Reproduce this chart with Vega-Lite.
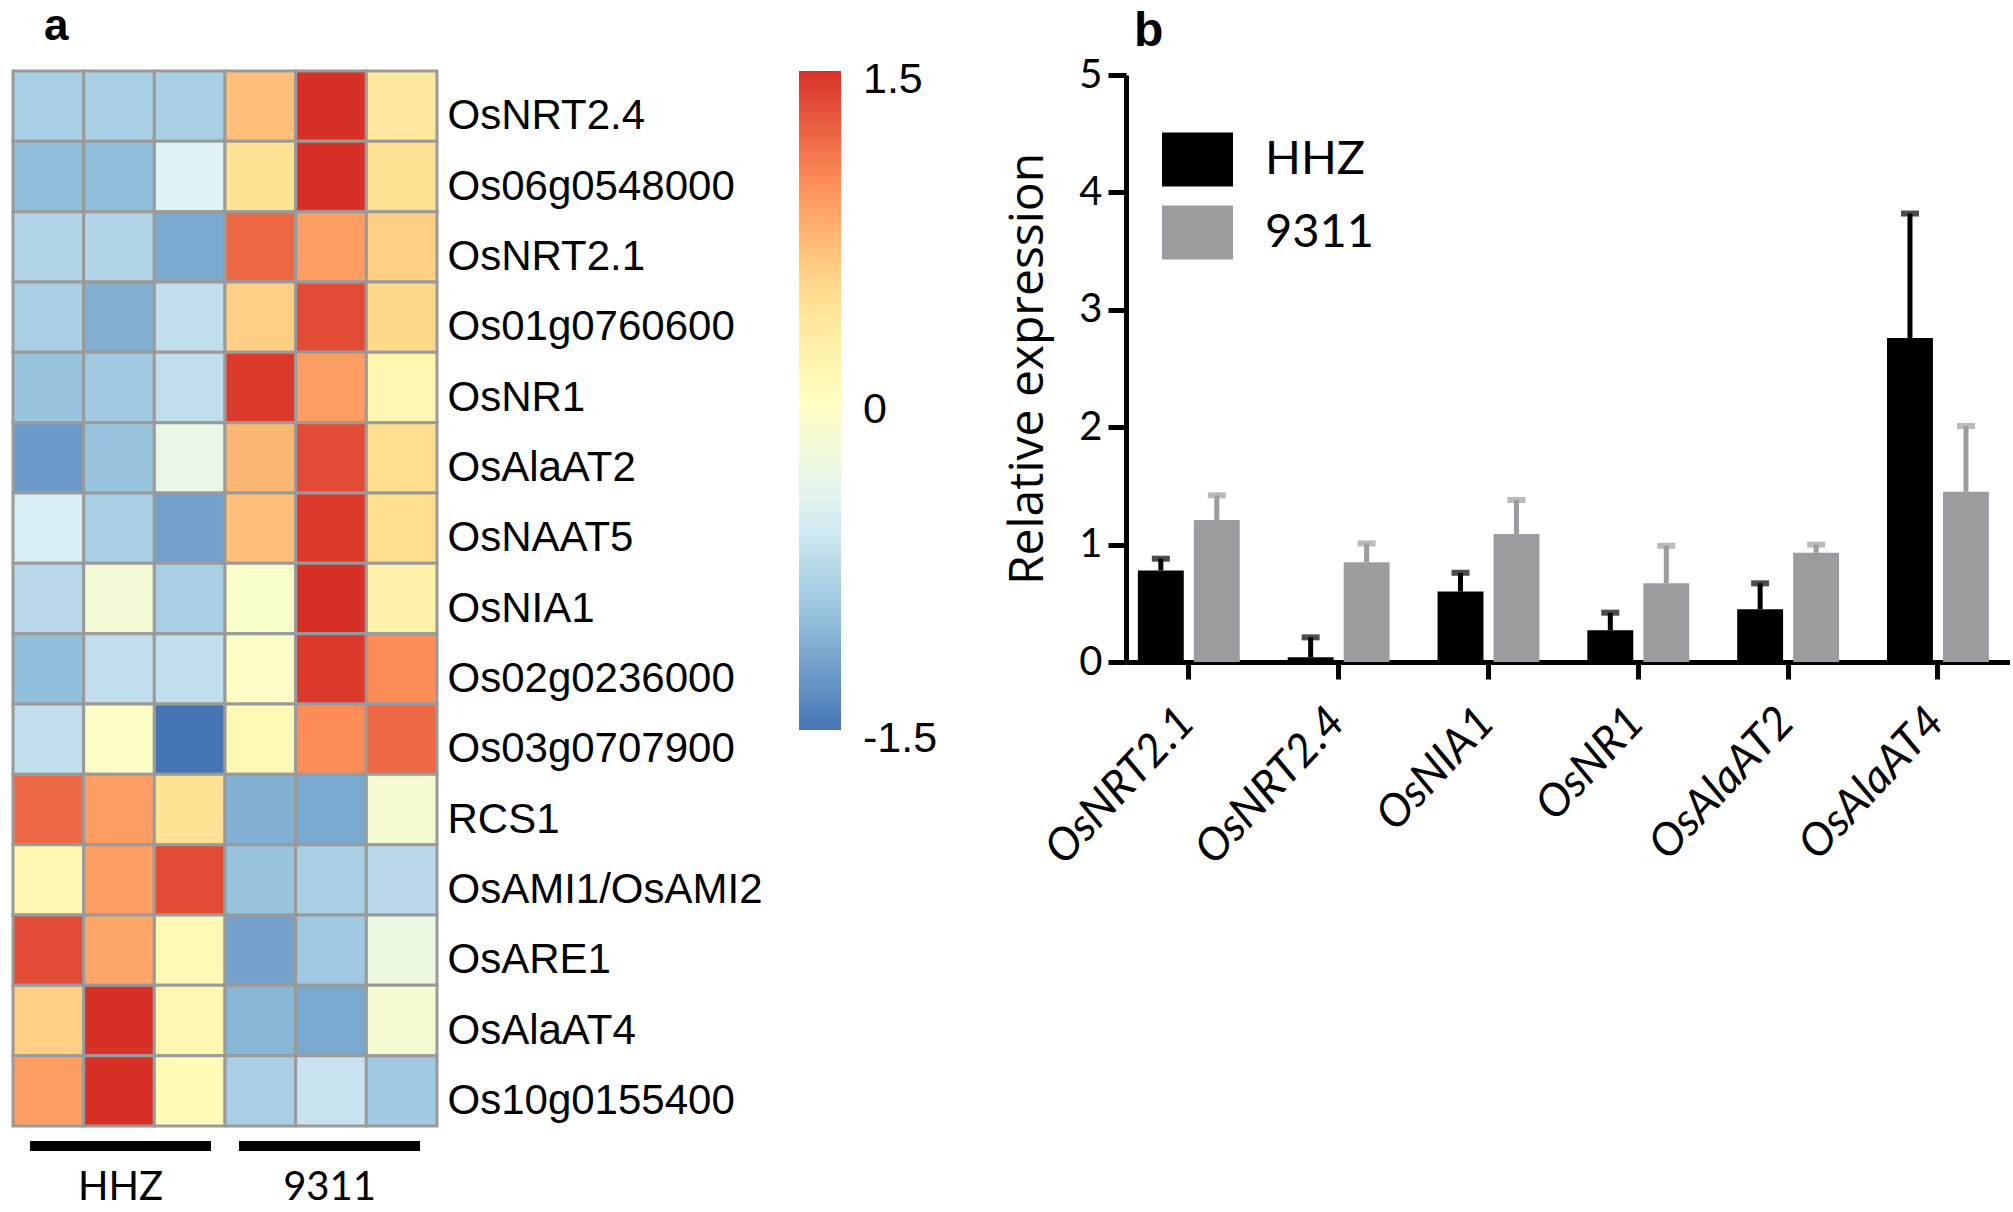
{
  "$schema": "https://vega.github.io/schema/vega-lite/v6.json",
  "padding": {"left": 11, "top": 4, "right": 0, "bottom": 0},
  "background": "white",
  "config": {"view": {"stroke": null}, "axis": {"grid": false}},
  "datasets": {
    "heat": [
      {"gene": "OsNRT2.4", "sample": "H1", "z": -0.85}, {"gene": "OsNRT2.4", "sample": "H2", "z": -0.85}, {"gene": "OsNRT2.4", "sample": "H3", "z": -0.85}, {"gene": "OsNRT2.4", "sample": "N1", "z": 0.7}, {"gene": "OsNRT2.4", "sample": "N2", "z": 1.5}, {"gene": "OsNRT2.4", "sample": "N3", "z": 0.35},
      {"gene": "Os06g0548000", "sample": "H1", "z": -1.0}, {"gene": "Os06g0548000", "sample": "H2", "z": -1.0}, {"gene": "Os06g0548000", "sample": "H3", "z": -0.5}, {"gene": "Os06g0548000", "sample": "N1", "z": 0.45}, {"gene": "Os06g0548000", "sample": "N2", "z": 1.5}, {"gene": "Os06g0548000", "sample": "N3", "z": 0.45},
      {"gene": "OsNRT2.1", "sample": "H1", "z": -0.8}, {"gene": "OsNRT2.1", "sample": "H2", "z": -0.8}, {"gene": "OsNRT2.1", "sample": "H3", "z": -1.15}, {"gene": "OsNRT2.1", "sample": "N1", "z": 1.2}, {"gene": "OsNRT2.1", "sample": "N2", "z": 0.9}, {"gene": "OsNRT2.1", "sample": "N3", "z": 0.6},
      {"gene": "Os01g0760600", "sample": "H1", "z": -0.85}, {"gene": "Os01g0760600", "sample": "H2", "z": -1.1}, {"gene": "Os01g0760600", "sample": "H3", "z": -0.7}, {"gene": "Os01g0760600", "sample": "N1", "z": 0.6}, {"gene": "Os01g0760600", "sample": "N2", "z": 1.35}, {"gene": "Os01g0760600", "sample": "N3", "z": 0.55},
      {"gene": "OsNR1", "sample": "H1", "z": -0.95}, {"gene": "OsNR1", "sample": "H2", "z": -0.9}, {"gene": "OsNR1", "sample": "H3", "z": -0.7}, {"gene": "OsNR1", "sample": "N1", "z": 1.45}, {"gene": "OsNR1", "sample": "N2", "z": 0.9}, {"gene": "OsNR1", "sample": "N3", "z": 0.15},
      {"gene": "OsAlaAT2", "sample": "H1", "z": -1.25}, {"gene": "OsAlaAT2", "sample": "H2", "z": -0.95}, {"gene": "OsAlaAT2", "sample": "H3", "z": -0.35}, {"gene": "OsAlaAT2", "sample": "N1", "z": 0.75}, {"gene": "OsAlaAT2", "sample": "N2", "z": 1.35}, {"gene": "OsAlaAT2", "sample": "N3", "z": 0.5},
      {"gene": "OsNAAT5", "sample": "H1", "z": -0.55}, {"gene": "OsNAAT5", "sample": "H2", "z": -0.85}, {"gene": "OsNAAT5", "sample": "H3", "z": -1.2}, {"gene": "OsNAAT5", "sample": "N1", "z": 0.7}, {"gene": "OsNAAT5", "sample": "N2", "z": 1.45}, {"gene": "OsNAAT5", "sample": "N3", "z": 0.5},
      {"gene": "OsNIA1", "sample": "H1", "z": -0.75}, {"gene": "OsNIA1", "sample": "H2", "z": -0.2}, {"gene": "OsNIA1", "sample": "H3", "z": -0.85}, {"gene": "OsNIA1", "sample": "N1", "z": -0.1}, {"gene": "OsNIA1", "sample": "N2", "z": 1.5}, {"gene": "OsNIA1", "sample": "N3", "z": 0.2},
      {"gene": "Os02g0236000", "sample": "H1", "z": -1.0}, {"gene": "Os02g0236000", "sample": "H2", "z": -0.7}, {"gene": "Os02g0236000", "sample": "H3", "z": -0.7}, {"gene": "Os02g0236000", "sample": "N1", "z": -0.05}, {"gene": "Os02g0236000", "sample": "N2", "z": 1.45}, {"gene": "Os02g0236000", "sample": "N3", "z": 1.0},
      {"gene": "Os03g0707900", "sample": "H1", "z": -0.7}, {"gene": "Os03g0707900", "sample": "H2", "z": -0.05}, {"gene": "Os03g0707900", "sample": "H3", "z": -1.5}, {"gene": "Os03g0707900", "sample": "N1", "z": 0.1}, {"gene": "Os03g0707900", "sample": "N2", "z": 1.0}, {"gene": "Os03g0707900", "sample": "N3", "z": 1.2},
      {"gene": "RCS1", "sample": "H1", "z": 1.2}, {"gene": "RCS1", "sample": "H2", "z": 0.9}, {"gene": "RCS1", "sample": "H3", "z": 0.45}, {"gene": "RCS1", "sample": "N1", "z": -1.1}, {"gene": "RCS1", "sample": "N2", "z": -1.15}, {"gene": "RCS1", "sample": "N3", "z": -0.15},
      {"gene": "OsAMI1/OsAMI2", "sample": "H1", "z": 0.15}, {"gene": "OsAMI1/OsAMI2", "sample": "H2", "z": 0.9}, {"gene": "OsAMI1/OsAMI2", "sample": "H3", "z": 1.35}, {"gene": "OsAMI1/OsAMI2", "sample": "N1", "z": -0.95}, {"gene": "OsAMI1/OsAMI2", "sample": "N2", "z": -0.85}, {"gene": "OsAMI1/OsAMI2", "sample": "N3", "z": -0.75},
      {"gene": "OsARE1", "sample": "H1", "z": 1.35}, {"gene": "OsARE1", "sample": "H2", "z": 0.85}, {"gene": "OsARE1", "sample": "H3", "z": 0.1}, {"gene": "OsARE1", "sample": "N1", "z": -1.2}, {"gene": "OsARE1", "sample": "N2", "z": -0.9}, {"gene": "OsARE1", "sample": "N3", "z": -0.3},
      {"gene": "OsAlaAT4", "sample": "H1", "z": 0.6}, {"gene": "OsAlaAT4", "sample": "H2", "z": 1.5}, {"gene": "OsAlaAT4", "sample": "H3", "z": 0.15}, {"gene": "OsAlaAT4", "sample": "N1", "z": -1.05}, {"gene": "OsAlaAT4", "sample": "N2", "z": -1.15}, {"gene": "OsAlaAT4", "sample": "N3", "z": -0.15},
      {"gene": "Os10g0155400", "sample": "H1", "z": 0.9}, {"gene": "Os10g0155400", "sample": "H2", "z": 1.5}, {"gene": "Os10g0155400", "sample": "H3", "z": 0.05}, {"gene": "Os10g0155400", "sample": "N1", "z": -0.85}, {"gene": "Os10g0155400", "sample": "N2", "z": -0.65}, {"gene": "Os10g0155400", "sample": "N3", "z": -0.9}
    ],
    "groups": [{"group": "HHZ"}, {"group": "9311"}],
    "bars": [
      {"gene": "OsNRT2.1", "series": "HHZ", "value": 0.78, "upper": 0.88},
      {"gene": "OsNRT2.1", "series": "9311", "value": 1.21, "upper": 1.42},
      {"gene": "OsNRT2.4", "series": "HHZ", "value": 0.04, "upper": 0.21},
      {"gene": "OsNRT2.4", "series": "9311", "value": 0.85, "upper": 1.01},
      {"gene": "OsNIA1", "series": "HHZ", "value": 0.6, "upper": 0.76},
      {"gene": "OsNIA1", "series": "9311", "value": 1.09, "upper": 1.38},
      {"gene": "OsNR1", "series": "HHZ", "value": 0.27, "upper": 0.42},
      {"gene": "OsNR1", "series": "9311", "value": 0.67, "upper": 0.99},
      {"gene": "OsAlaAT2", "series": "HHZ", "value": 0.45, "upper": 0.67},
      {"gene": "OsAlaAT2", "series": "9311", "value": 0.93, "upper": 1.0},
      {"gene": "OsAlaAT4", "series": "HHZ", "value": 2.76, "upper": 3.82},
      {"gene": "OsAlaAT4", "series": "9311", "value": 1.45, "upper": 2.01}
    ]
  },
  "hconcat": [
    {
      "vconcat": [
        {
          "width": 424,
          "height": 1055,
          "title": {"text": "a", "anchor": "start", "frame": "group", "font": "Liberation Sans", "fontSize": 44, "fontWeight": "bold", "color": "black", "dx": 31, "offset": 34, "dy": 48, "baseline": "alphabetic"},
          "data": {"name": "heat"},
          "mark": {"type": "rect", "stroke": "#9a9a9a", "strokeWidth": 3},
          "encoding": {
            "x": {"field": "sample", "type": "nominal", "scale": {"domain": ["H1", "H2", "H3", "N1", "N2", "N3"], "paddingInner": 0, "paddingOuter": 0}, "axis": null},
            "y": {"field": "gene", "type": "nominal",
              "scale": {"domain": ["OsNRT2.4", "Os06g0548000", "OsNRT2.1", "Os01g0760600", "OsNR1", "OsAlaAT2", "OsNAAT5", "OsNIA1", "Os02g0236000", "Os03g0707900", "RCS1", "OsAMI1/OsAMI2", "OsARE1", "OsAlaAT4", "Os10g0155400"], "paddingInner": 0, "paddingOuter": 0},
              "axis": {"orient": "right", "title": null, "domain": false, "ticks": false, "labelFont": "Liberation Sans", "labelFontSize": 42, "labelColor": "black", "labelPadding": 10, "labelOffset": 10, "labelLimit": 0}},
            "color": {"field": "z", "type": "quantitative",
              "scale": {"type": "linear", "domain": [-1.5, -1, -0.5, 0, 0.5, 1, 1.5], "range": ["#4575B4", "#91BFDB", "#E0F3F8", "#FFFFBF", "#FEE090", "#FC8D59", "#D73027"], "interpolate": "rgb", "clamp": true},
              "legend": {"orient": "none", "legendX": 786, "legendY": 0, "direction": "vertical", "gradientLength": 659, "gradientThickness": 42, "gradientStrokeWidth": 0, "values": [-1.5, 0, 1.5], "title": null, "padding": 0, "labelFont": "Liberation Sans", "labelFontSize": 43, "labelColor": "black", "labelOffset": 22, "labelBaseline": "middle", "labelOverlap": false, "labelExpr": "datum.value === 0 ? '0' : (datum.value > 0 ? '1.5' : '-1.5')", "encode": {"labels": {"update": {"baseline": {"value": "middle"}, "dy": {"value": 9}}}}}}
          }
        },
        {
          "width": 424,
          "height": 10,
          "data": {"name": "groups"},
          "mark": {"type": "bar", "color": "black"},
          "encoding": {
            "x": {"field": "group", "type": "nominal", "sort": ["HHZ", "9311"], "scale": {"paddingInner": 0.134, "paddingOuter": 0.081},
              "axis": {"orient": "bottom", "title": null, "domain": false, "ticks": false, "labelAngle": 0, "labelFont": "Lato", "labelFontSize": 40, "labelColor": "black", "labelPadding": 16}}
          }
        }
      ],
      "spacing": 15,
      "bounds": "flush",
      "resolve": {"scale": {"color": "independent", "x": "independent", "y": "independent"}, "legend": {"color": "independent"}}
    },
    {
      "width": 884,
      "height": 591,
      "title": {"text": "b", "anchor": "start", "frame": "group", "font": "Liberation Sans", "fontSize": 48, "fontWeight": "bold", "color": "black", "dx": 8, "offset": 14, "dy": 53, "baseline": "alphabetic"},
      "data": {"name": "bars"},
      "encoding": {
        "x": {"field": "gene", "type": "nominal",
          "scale": {"domain": ["OsNRT2.1", "OsNRT2.4", "OsNIA1", "OsNR1", "OsAlaAT2", "OsAlaAT4"], "paddingInner": 0.32, "paddingOuter": 0.11, "align": 0.36},
          "axis": {"title": null, "labelAngle": -47, "labelAlign": "right", "labelBaseline": "top", "labelFont": "Lato", "labelFontStyle": "italic", "labelFontSize": 45, "labelColor": "black", "labelPadding": 20, "labelOffset": -18, "labelLimit": 0, "tickSize": 17, "tickWidth": 5, "tickColor": "black", "domainWidth": 5, "domainColor": "black"}},
        "xOffset": {"field": "series", "type": "nominal", "scale": {"domain": ["HHZ", "9311"], "paddingInner": 0.18, "paddingOuter": 0}}
      },
      "layer": [
        {
          "mark": {"type": "bar"},
          "encoding": {
            "y": {"field": "value", "type": "quantitative",
              "scale": {"domain": [0, 5], "range": [591, 4], "nice": false},
              "axis": {"values": [0, 1, 2, 3, 4, 5], "format": "d", "title": "Relative expression", "titleFont": "Open Sans", "titleFontSize": 48, "titleFontWeight": "normal", "titleColor": "black", "titlePadding": 26, "labelFont": "Lato", "labelFontSize": 40, "labelColor": "black", "labelPadding": 6, "tickSize": 18, "tickWidth": 5, "tickColor": "black", "domainWidth": 5, "domainColor": "black"}},
            "color": {"field": "series", "type": "nominal",
              "scale": {"domain": ["HHZ", "9311"], "range": ["#000000", "#9c9ca0"]},
              "legend": {"orient": "none", "legendX": 36, "legendY": 53, "title": null, "padding": 0, "symbolType": "M-1,-0.76H1V0.76H-1Z", "symbolSize": 5041, "symbolStrokeWidth": 0, "labelFont": "Lato", "labelFontSize": 47, "labelColor": "black", "labelOffset": 32, "rowPadding": 10}}
          }
        },
        {
          "transform": [{"filter": "datum.series === 'HHZ'"}],
          "mark": {"type": "rule", "color": "black", "strokeWidth": 5},
          "encoding": {"y": {"field": "value", "type": "quantitative"}, "y2": {"field": "upper"}}
        },
        {
          "transform": [{"filter": "datum.series === 'HHZ'"}],
          "mark": {"type": "tick", "color": "black", "thickness": 6, "size": 18},
          "encoding": {"y": {"field": "upper", "type": "quantitative"}}
        },
        {
          "transform": [{"filter": "datum.series === '9311'"}],
          "mark": {"type": "rule", "color": "#9c9ca0", "strokeWidth": 5},
          "encoding": {"y": {"field": "value", "type": "quantitative"}, "y2": {"field": "upper"}}
        },
        {
          "transform": [{"filter": "datum.series === '9311'"}],
          "mark": {"type": "tick", "color": "#9c9ca0", "thickness": 6, "size": 18},
          "encoding": {"y": {"field": "upper", "type": "quantitative"}}
        }
      ]
    }
  ],
  "spacing": 1113,
  "bounds": "flush",
  "resolve": {"scale": {"color": "independent", "x": "independent", "y": "independent", "xOffset": "independent"}, "legend": {"color": "independent"}}
}
